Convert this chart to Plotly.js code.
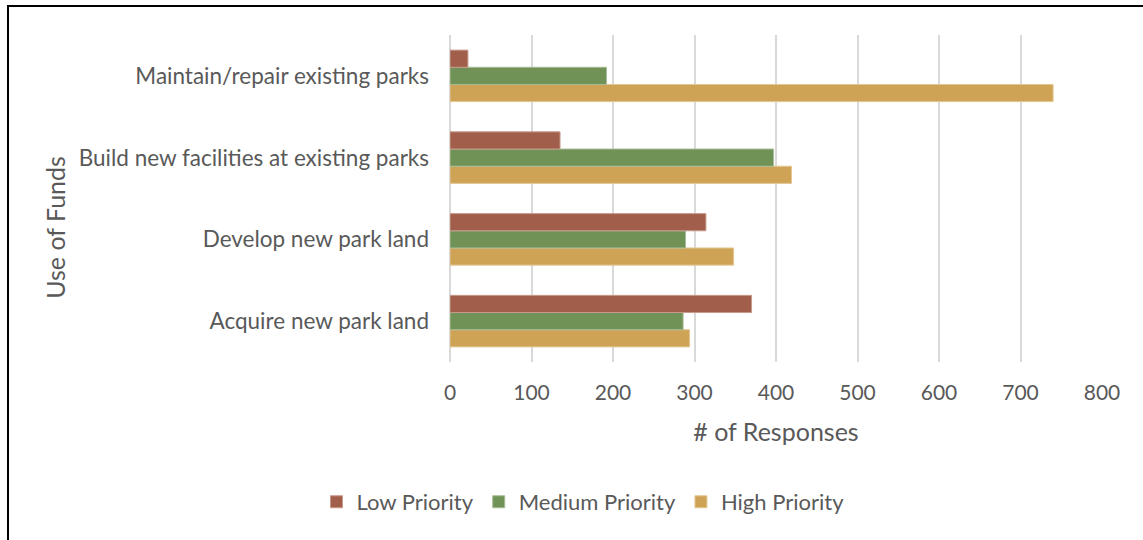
<!DOCTYPE html>
<html>
<head>
<meta charset="utf-8">
<script src="https://cdn.plot.ly/plotly-3.0.1.min.js"></script>
<style>
  html, body { margin: 0; padding: 0; background: #fff; }
  #chart { width: 1143px; height: 540px; }
  #frame { position: absolute; left: 7px; top: 5px; width: 1140px; height: 540px;
           border-top: 2px solid #000; border-left: 2px solid #000; pointer-events: none; }
</style>
</head>
<body>
<div id="chart"></div>
<div id="frame"></div>
<script>
const categories = [
  'Acquire new park land',
  'Develop new park land',
  'Build new facilities at existing parks',
  'Maintain/repair existing parks'
];
const lowPriority = [370, 314, 135, 22];
const mediumPriority = [286, 289, 397, 192];
const highPriority = [294, 348, 419, 740];
const xTicks = [0, 100, 200, 300, 400, 500, 600, 700, 800];
const yTitle = 'Use of Funds';
const xTitle = '# of Responses';

const FONT = 'Lato, "Open Sans", sans-serif';
const TXT = '#595959';

function bar(name, values, color, line) {
  return {
    type: 'bar', orientation: 'h', name: name,
    x: values, y: categories,
    marker: { color: color, line: { color: line, width: 1 } },
    hoverinfo: 'x+name'
  };
}

const data = [
  bar('High Priority', highPriority, '#CFA355', '#E3C896'),
  bar('Medium Priority', mediumPriority, '#719257', '#A6BC96'),
  bar('Low Priority', lowPriority, '#A15F4B', '#C79A8C')
];

const layout = {
  width: 1143, height: 540,
  margin: { l: 450, r: 41, t: 35, b: 178 },
  paper_bgcolor: '#fff', plot_bgcolor: '#fff',
  barmode: 'group', bargap: 0.37, bargroupgap: 0,
  font: { family: FONT, color: TXT, size: 21 },
  xaxis: {
    range: [0, 800], tickvals: xTicks, ticktext: xTicks.map(String),
    showgrid: true, gridcolor: '#D9D9D9', gridwidth: 2,
    zeroline: true, zerolinecolor: '#D9D9D9', zerolinewidth: 2,
    showline: false, ticks: '', ticklabelstandoff: 16,
    tickfont: { family: FONT, size: 21, color: TXT },
    title: { text: xTitle, font: { family: FONT, size: 25, color: TXT }, standoff: 20 },
    fixedrange: true
  },
  yaxis: {
    type: 'category', categoryorder: 'array', categoryarray: categories,
    showgrid: false, zeroline: false, showline: false, ticks: '',
    ticklabelstandoff: 20,
    tickfont: { family: FONT, size: 22.5, color: TXT },
    fixedrange: true
  },
  annotations: [{
    text: yTitle, textangle: -90, showarrow: false,
    xref: 'paper', yref: 'paper', x: -0.606, y: 0.413,
    xanchor: 'center', yanchor: 'middle',
    font: { family: FONT, size: 25, color: TXT }
  }],
  showlegend: true,
  legend: {
    orientation: 'h', traceorder: 'reversed',
    x: 0.204, xanchor: 'center', y: -0.428, yanchor: 'middle',
    font: { family: FONT, size: 22, color: TXT },
    itemwidth: 30
  }
};

Plotly.newPlot('chart', data, layout, { displayModeBar: false, staticPlot: true });
</script>
</body>
</html>
